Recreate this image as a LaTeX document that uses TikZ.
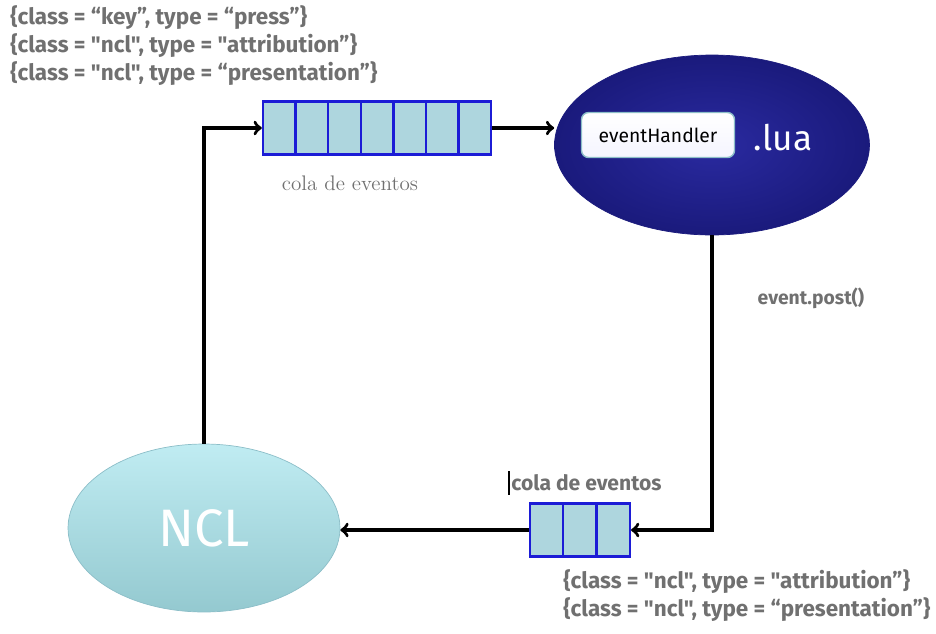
\documentclass[tikz,border=0pt]{standalone}
\usepackage{fontspec}
\newfontfamily\firasans{Fira Sans}
\usetikzlibrary{calc,positioning,shapes.geometric,arrows}
\definecolor{textogris}{RGB}{112,112,112}
\definecolor{celdafondo}{RGB}{174,214,222}
\definecolor{celdaborde}{RGB}{28,28,214}
\definecolor{luaoscuro}{RGB}{26,26,124}
\definecolor{luaclaro}{RGB}{42,42,160}
\definecolor{nclclaro}{RGB}{192,236,242}
\definecolor{nclborde}{RGB}{140,190,200}

\begin{document}
\begin{tikzpicture}[x=0.02cm,y=-0.02cm,
	celda/.style={draw=celdaborde, fill=celdafondo, line width=1.3pt, minimum width=0.652cm, minimum height=1.06cm, inner sep=0pt},
	flecha/.style={->, line width=1.9pt},
	etiqueta/.style={text=textogris, font=\firasans\bfseries\fontsize{12.8}{15.9}\selectfont, inner sep=0pt, align=left}]

\useasboundingbox (0,0) rectangle (936,633);

% eventos que entran
\node[etiqueta, anchor=north west] (entrada) at (10,5)
	{\{class = “key”, type = “press”\}\\
	\{class = "ncl", type = "attribution”\}\\
	\{class = "ncl", type = “presentation”\}};

% cola de arriba
\foreach \i in {1,...,7}
	\node[celda] (a\i) at ({279.3+(\i-1)*32.6},128) {};
\node[text=textogris, font=\fontsize{12}{14}\selectfont, inner sep=0pt] (colaA) at (350,183) {cola de eventos};

% script lua
\node[ellipse, minimum width=6.3cm, minimum height=3.6cm, inner color=luaclaro, outer color=luaoscuro, draw=luaoscuro] (lua) at (712,145) {};
\node[draw=nclborde, line width=0.8pt, rounded corners=4pt, top color=white, bottom color=blue!4, minimum width=3.06cm, minimum height=0.9cm, inner sep=0pt, font=\firasans\fontsize{11}{13}\selectfont] (handler) at (658,135) {eventHandler};
\node[text=white, font=\firasans\fontsize{20}{24}\selectfont, inner sep=0pt] (ext) at (783,138) {.lua};
\node[etiqueta, font=\firasans\bfseries\fontsize{11}{13}\selectfont] (post) at (811,298) {event.post()};

% cola de abajo
\foreach \i in {1,2,3}
	\node[celda, minimum width=0.666cm] (b\i) at ({546.6+(\i-1)*33.3},530) {};
\node[etiqueta, anchor=west, font=\firasans\bfseries\fontsize{12}{14}\selectfont] (colaB) at (511,483) {cola de eventos};
\draw[line width=0.6pt] ($(colaB.west)+(-2,-12)$) -- ($(colaB.west)+(-2,12)$);

% eventos que salen
\node[etiqueta, anchor=north west] (salida) at (563,569)
	{\{class = "ncl", type = "attribution”\}\\
	\{class = "ncl", type = “presentation”\}};

% NCL
\node[ellipse, minimum width=5.44cm, minimum height=3.36cm, top color=nclclaro, bottom color=celdafondo!85!teal, draw=nclborde, text=white, font=\firasans\fontsize{30}{34}\selectfont] (NCL) at (204,528) {NCL};

% conexiones
\draw[flecha] (NCL.north) |- (a1.west);
\draw[flecha] (a7.east) -- (a7.east -| lua.west);
\draw[flecha] (lua.south) |- (b3.east);
\draw[flecha] (b1.west) -- (b1.west -| NCL.east);

\end{tikzpicture}
\end{document}
